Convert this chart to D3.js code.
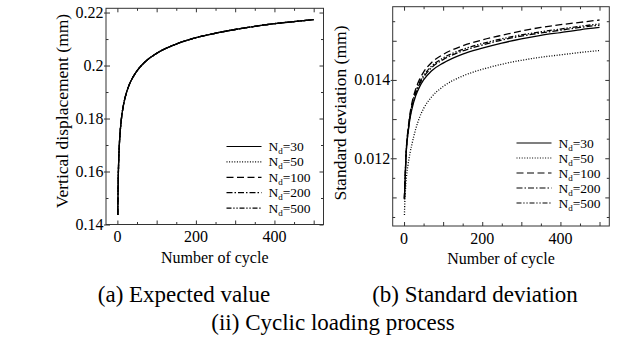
<!DOCTYPE html>
<meta charset="utf-8">
<style>
	body { margin: 0; background: #fff; }
	.frame { fill: none; stroke: #333; stroke-width: 1; }
	.axis path { display: none; }
	.axis line { stroke: #333; stroke-width: 1; }
	.series { fill: none; stroke: #000; stroke-width: 1.3; }
</style>
<html>
<head>
    <script type="text/javascript" src="https://cdn.jsdelivr.net/npm/d3@7/dist/d3.min.js" charset="utf-8"></script>
</head>
<body>
    <svg class="chart"></svg>

    <script type="text/javascript">
        //DATA

        var cycles = [1, 2, 3, 5, 7, 10, 15, 20, 30, 40, 50, 70, 100, 150, 200, 250, 300, 350, 400, 450, 500];
        var ndLabels = ["30", "50", "100", "200", "500"];

        // (a) expected value - the five N_d curves lie on top of each other
        var meanNd30  = [0.1436, 0.1559, 0.1624, 0.1701, 0.1748, 0.1796, 0.1847, 0.1881, 0.1927, 0.1957, 0.1980, 0.2013, 0.2046, 0.2081, 0.2105, 0.2122, 0.2136, 0.2148, 0.2158, 0.2166, 0.2173];
        var meanNd50  = [0.1436, 0.1559, 0.1624, 0.1701, 0.1748, 0.1796, 0.1847, 0.1881, 0.1927, 0.1957, 0.1980, 0.2013, 0.2046, 0.2081, 0.2105, 0.2122, 0.2136, 0.2148, 0.2158, 0.2166, 0.2173];
        var meanNd100 = [0.1436, 0.1559, 0.1624, 0.1701, 0.1748, 0.1796, 0.1847, 0.1881, 0.1927, 0.1957, 0.1980, 0.2013, 0.2046, 0.2081, 0.2105, 0.2122, 0.2136, 0.2148, 0.2158, 0.2166, 0.2173];
        var meanNd200 = [0.1436, 0.1559, 0.1624, 0.1701, 0.1748, 0.1796, 0.1847, 0.1881, 0.1927, 0.1957, 0.1980, 0.2013, 0.2046, 0.2081, 0.2105, 0.2122, 0.2136, 0.2148, 0.2158, 0.2166, 0.2173];
        var meanNd500 = [0.1436, 0.1559, 0.1624, 0.1701, 0.1748, 0.1796, 0.1847, 0.1881, 0.1927, 0.1957, 0.1980, 0.2013, 0.2046, 0.2081, 0.2105, 0.2122, 0.2136, 0.2148, 0.2158, 0.2166, 0.2173];

        // (b) standard deviation
        var stdNd30  = [0.01098, 0.01128, 0.01152, 0.01204, 0.01235, 0.01262, 0.01300, 0.01325, 0.01360, 0.01383, 0.01400, 0.01423, 0.01443, 0.01466, 0.01481, 0.01494, 0.01505, 0.01514, 0.01521, 0.01528, 0.01534];
        var stdNd50  = [0.01055, 0.01088, 0.01108, 0.01138, 0.01160, 0.01182, 0.01212, 0.01235, 0.01275, 0.01305, 0.01327, 0.01356, 0.01383, 0.01410, 0.01427, 0.01440, 0.01450, 0.01458, 0.01464, 0.01470, 0.01475];
        var stdNd100 = [0.01095, 0.01128, 0.01154, 0.01208, 0.01242, 0.01272, 0.01312, 0.01340, 0.01377, 0.01402, 0.01420, 0.01444, 0.01465, 0.01487, 0.01502, 0.01514, 0.01525, 0.01534, 0.01541, 0.01547, 0.01553];
        var stdNd200 = [0.01096, 0.01128, 0.01153, 0.01205, 0.01237, 0.01265, 0.01304, 0.01330, 0.01366, 0.01390, 0.01407, 0.01431, 0.01452, 0.01474, 0.01489, 0.01502, 0.01512, 0.01520, 0.01527, 0.01534, 0.01540];
        var stdNd500 = [0.01097, 0.01129, 0.01154, 0.01206, 0.01239, 0.01268, 0.01307, 0.01334, 0.01370, 0.01394, 0.01411, 0.01435, 0.01456, 0.01478, 0.01493, 0.01505, 0.01515, 0.01523, 0.01530, 0.01537, 0.01543];

        var xTicksMajor = [0, 100, 200, 300, 400, 500];
        var xTicksMinor = [50, 150, 250, 350, 450];
        var xTickLabels = [0, 200, 400];

        var meanTicksMajor = [0.14, 0.16, 0.18, 0.2, 0.22];
        var meanTicksMinor = [0.15, 0.17, 0.19, 0.21];
        var meanTickLabels = [0.14, 0.16, 0.18, 0.2, 0.22];

        var stdTicksMajor = [0.011, 0.012, 0.013, 0.014, 0.015];
        var stdTicksMinor = [0.0105, 0.0115, 0.0125, 0.0135, 0.0145, 0.0155];
        var stdTickLabels = [0.012, 0.014];

        //DRAWING

        var width = 624,
            height = 341;

        // dash patterns for N_d = 30, 50, 100, 200, 500
        var dashes = [null, "1,1.6", "7,3.5", "6,2,1.5,2", "5,1.8,1.3,1.8,1.3,1.8"];

        var svg = d3.select(".chart")
            .attr("width", width)
            .attr("height", height)
            .attr("font-family", "'Liberation Serif', 'Times New Roman', Times, 'DejaVu Serif', serif");

        function zip(ys) {
            return cycles.map(function(c, i) { return [c, ys[i]]; });
        }

        function drawPanel(p) {
            var x = d3.scaleLinear().domain([-29, 525]).range([p.left, p.right]);
            var y = d3.scaleLinear().domain(p.yDomain).range([p.bottom, p.top]);
            var g = svg.append("g");

            // ticks, all pointing inward
            g.append("g").attr("class", "axis").attr("transform", "translate(0," + p.bottom + ")")
                .call(d3.axisBottom(x).tickValues(xTicksMajor).tickSize(-4).tickFormat(""));
            g.append("g").attr("class", "axis").attr("transform", "translate(0," + p.bottom + ")")
                .call(d3.axisBottom(x).tickValues(xTicksMinor).tickSize(-2.5).tickFormat(""));
            g.append("g").attr("class", "axis").attr("transform", "translate(0," + p.top + ")")
                .call(d3.axisTop(x).tickValues(xTicksMajor).tickSize(-4).tickFormat(""));
            g.append("g").attr("class", "axis").attr("transform", "translate(0," + p.top + ")")
                .call(d3.axisTop(x).tickValues(xTicksMinor).tickSize(-2.5).tickFormat(""));
            g.append("g").attr("class", "axis").attr("transform", "translate(" + p.left + ",0)")
                .call(d3.axisLeft(y).tickValues(p.yMajor).tickSize(-4).tickFormat(""));
            g.append("g").attr("class", "axis").attr("transform", "translate(" + p.left + ",0)")
                .call(d3.axisLeft(y).tickValues(p.yMinor).tickSize(-2.5).tickFormat(""));
            g.append("g").attr("class", "axis").attr("transform", "translate(" + p.right + ",0)")
                .call(d3.axisRight(y).tickValues(p.yMajor).tickSize(-4).tickFormat(""));
            g.append("g").attr("class", "axis").attr("transform", "translate(" + p.right + ",0)")
                .call(d3.axisRight(y).tickValues(p.yMinor).tickSize(-2.5).tickFormat(""));
            // labelled y ticks poke out a little
            g.append("g").attr("class", "axis").attr("transform", "translate(" + p.left + ",0)")
                .call(d3.axisLeft(y).tickValues(p.yLabels).tickSize(2).tickFormat(""));

            g.append("rect").attr("class", "frame")
                .attr("x", p.left).attr("y", p.top)
                .attr("width", p.right - p.left).attr("height", p.bottom - p.top);

            // tick labels
            g.selectAll(".xl").data(xTickLabels).enter().append("text")
                .attr("x", function(d) { return x(d); })
                .attr("y", p.bottom + 17.5)
                .attr("text-anchor", "middle")
                .attr("font-size", 16)
                .text(function(d) { return d; });
            g.selectAll(".yl").data(p.yLabels).enter().append("text")
                .attr("x", p.left - 2.5)
                .attr("y", function(d) { return y(d) + 5.5; })
                .attr("text-anchor", "end")
                .attr("font-size", 16)
                .text(function(d) { return String(d); });

            // axis titles
            g.append("text")
                .attr("x", (p.left + p.right) / 2)
                .attr("y", p.bottom + 38)
                .attr("text-anchor", "middle")
                .attr("font-size", 16)
                .text("Number of cycle");
            g.append("text")
                .attr("transform", "translate(" + p.yTitleX + "," + p.yTitleY + ") rotate(-90)")
                .attr("text-anchor", "middle")
                .attr("font-size", 17.5)
                .text(p.yTitle);

            // curves
            var line = d3.line()
                .x(function(d) { return x(d[0]); })
                .y(function(d) { return y(d[1]); })
                .curve(d3.curveMonotoneX);

            g.selectAll(".series").data(p.series).enter().append("path")
                .attr("class", "series")
                .attr("d", function(d) { return line(zip(d)); })
                .style("stroke-dasharray", function(d, i) { return dashes[i]; });

            // legend
            var legend = g.selectAll(".legend").data(ndLabels).enter().append("g")
                .attr("class", "legend")
                .attr("transform", function(d, i) {
                    return "translate(" + p.legendX + "," + (p.legendY + i * p.legendStep) + ")";
                });
            legend.append("line")
                .attr("x1", 0).attr("x2", 35).attr("y1", 0).attr("y2", 0)
                .attr("stroke", "#000").attr("stroke-width", 1.2)
                .style("stroke-dasharray", function(d, i) { return dashes[i]; });
            var lt = legend.append("text")
                .attr("x", 42).attr("y", 4.5)
                .attr("font-size", 13.5);
            lt.append("tspan").text("N");
            lt.append("tspan").attr("dy", 3).attr("font-size", 9).text("d");
            lt.append("tspan").attr("dy", -3).text(function(d) { return "=" + d; });
        }

        drawPanel({
            left: 106, right: 323.5, top: 8.3, bottom: 224.5,
            yDomain: [0.14, 0.2216],
            yMajor: meanTicksMajor, yMinor: meanTicksMinor, yLabels: meanTickLabels,
            series: [meanNd30, meanNd50, meanNd100, meanNd200, meanNd500],
            yTitle: "Vertical displacement (mm)", yTitleX: 68, yTitleY: 111,
            legendX: 226.5, legendY: 146.5, legendStep: 15.4
        });

        drawPanel({
            left: 392.7, right: 609.3, top: 6.7, bottom: 226,
            yDomain: [0.01027, 0.01587],
            yMajor: stdTicksMajor, yMinor: stdTicksMinor, yLabels: stdTickLabels,
            series: [stdNd30, stdNd50, stdNd100, stdNd200, stdNd500],
            yTitle: "Standard deviation (mm)", yTitleX: 346, yTitleY: 113,
            legendX: 516.5, legendY: 143, legendStep: 15
        });

        // captions
        svg.append("text").attr("x", 184).attr("y", 302).attr("text-anchor", "middle")
            .attr("font-size", 23).text("(a) Expected value");
        svg.append("text").attr("x", 475).attr("y", 302).attr("text-anchor", "middle")
            .attr("font-size", 23).text("(b) Standard deviation");
        svg.append("text").attr("x", 333).attr("y", 330).attr("text-anchor", "middle")
            .attr("font-size", 23).text("(ii) Cyclic loading process");
    </script>
</body>
</html>
